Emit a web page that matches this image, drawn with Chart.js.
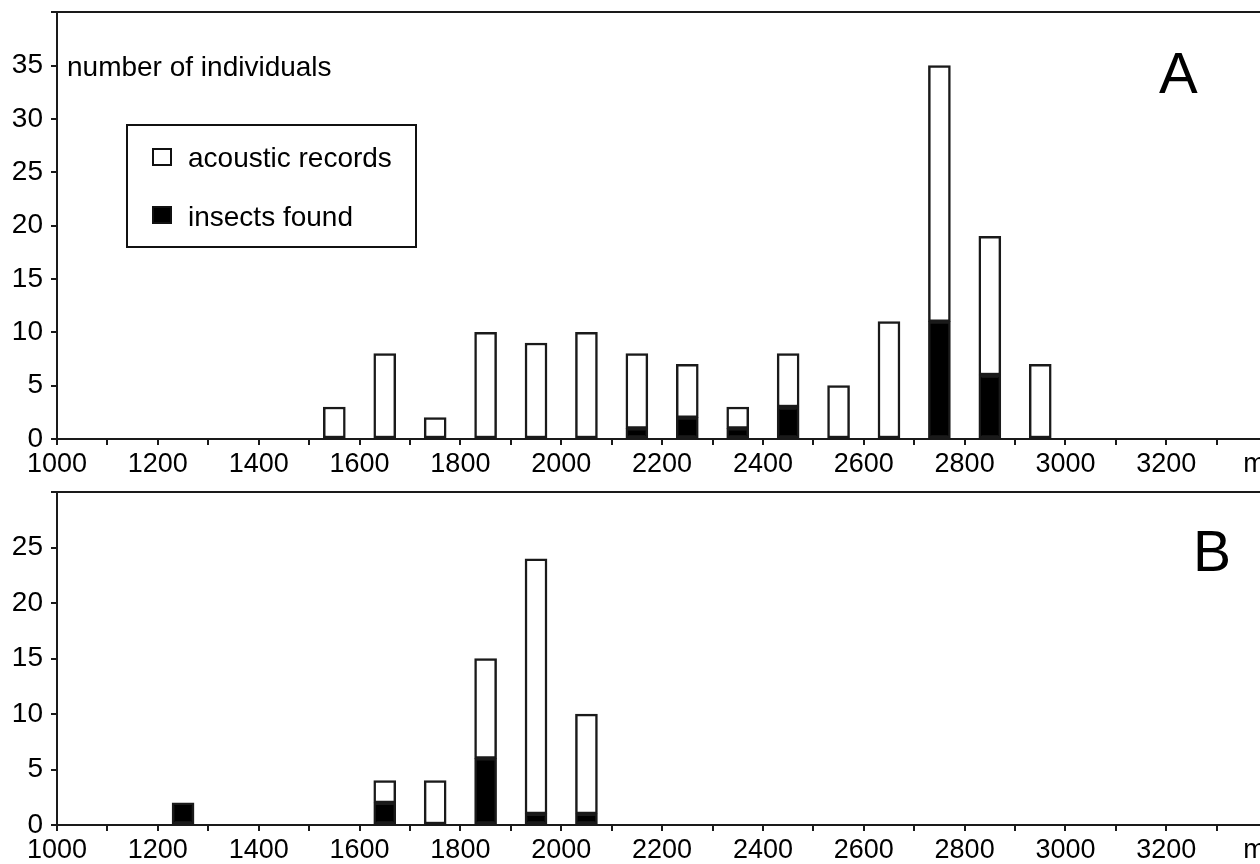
<!DOCTYPE html>
<html lang="en">
<head>
<meta charset="UTF-8">
<title>Number of individuals by elevation</title>
<script src="https://cdn.jsdelivr.net/npm/chart.js"></script>
<style>
  html, body { margin: 0; padding: 0; background: #fff; overflow: hidden; }
  #wrap { position: relative; width: 1260px; height: 864px; overflow: hidden; font-family: "Liberation Sans", Arial, sans-serif; color: #000; }
  #wrap canvas { position: absolute; left: 0; }
  #chartA { top: 0; }
  #chartB { top: 480px; }
  .txt { position: absolute; line-height: 1; white-space: nowrap; }
  #yTitle { left: 67px; top: 53px; font-size: 28px; }
  #panelA { left: 1159px; top: 44px; font-size: 58px; }
  #panelB { left: 1193px; top: 523px; font-size: 57px; }
  #legend { position: absolute; left: 126px; top: 124px; width: 291px; height: 124px; box-sizing: border-box; border: 2px solid #111; }
  .swatch { position: absolute; width: 20px; height: 18px; box-sizing: border-box; border: 2px solid #111; }
  .legTxt { font-size: 28px; }
</style>
</head>
<body>
<div id="wrap">
  <canvas id="chartA" width="1368" height="480"></canvas>
  <canvas id="chartB" width="1368" height="384"></canvas>
  <div class="txt" id="yTitle">number of individuals</div>
  <div class="txt" id="panelA">A</div>
  <div class="txt" id="panelB">B</div>
  <div id="legend"></div>
  <div class="swatch" style="left:152px; top:148px; background:#fff;"></div>
  <div class="txt legTxt" style="left:188px; top:144px;">acoustic records</div>
  <div class="swatch" style="left:152px; top:206px; background:#000;"></div>
  <div class="txt legTxt" style="left:188px; top:203px;">insects found</div>
</div>
<script>
  // elevation bins (m), bar centres
  const elevA = [1550, 1650, 1750, 1850, 1950, 2050, 2150, 2250, 2350, 2450, 2550, 2650, 2750, 2850, 2950];
  // white part of each bar (acoustic records) and black part (insects found)
  const acousticA = [3, 8, 2, 10, 9, 10, 7, 5, 2, 5, 5, 11, 24, 13, 7];
  const insectsA  = [0, 0, 0, 0, 0, 0, 1, 2, 1, 3, 0, 0, 11, 6, 0];

  const elevB = [1250, 1650, 1750, 1850, 1950, 2050];
  const acousticB = [0, 2, 4, 9, 23, 9];
  const insectsB  = [2, 2, 0, 6, 1, 1];

  const xTickValues = [1000, 1100, 1200, 1300, 1400, 1500, 1600, 1700, 1800, 1900, 2000, 2100, 2200,
                       2300, 2400, 2500, 2600, 2700, 2800, 2900, 3000, 3100, 3200, 3300, 3375];
  const xTickLabels = ['1000', '', '1200', '', '1400', '', '1600', '', '1800', '', '2000', '', '2200',
                       '', '2400', '', '2600', '', '2800', '', '3000', '', '3200', '', 'm'];

  const yTicksA = [0, 5, 10, 15, 20, 25, 30, 35, 40];
  const yLabelsA = ['0', '5', '10', '15', '20', '25', '30', '35', ''];
  const yTicksB = [0, 5, 10, 15, 20, 25, 30];
  const yLabelsB = ['0', '5', '10', '15', '20', '25', ''];

  const FONT = '"Liberation Sans", Arial, sans-serif';
  const INK = '#1a1a1a';

  function pts(xs, ys) {
    return xs.map((x, i) => ({ x: x, y: ys[i] > 0 ? ys[i] : null }));
  }

  function makeChart(id, elev, acoustic, insects, yTicks, yLabels, padTop, xHeight) {
    const yMax = yTicks[yTicks.length - 1];
    return new Chart(document.getElementById(id), {
      type: 'bar',
      data: {
        datasets: [
          { label: 'insects found', data: pts(elev, insects), backgroundColor: '#000', borderColor: INK,
            borderWidth: 2.5, borderSkipped: false, barThickness: 22, stack: 's' },
          { label: 'acoustic records', data: pts(elev, acoustic), backgroundColor: '#fff', borderColor: INK,
            borderWidth: 2.5, borderSkipped: false, barThickness: 22, stack: 's' }
        ]
      },
      options: {
        responsive: false,
        animation: false,
        layout: { padding: { top: padTop, left: 0, right: 0, bottom: 0 } },
        plugins: { legend: { display: false }, tooltip: { enabled: false } },
        scales: {
          x: {
            type: 'linear', min: 1000, max: 3600, stacked: true, offset: false,
            afterBuildTicks: s => { s.ticks = xTickValues.map(v => ({ value: v })); },
            afterFit: s => { s.height = xHeight; },
            ticks: { autoSkip: false, maxRotation: 0, padding: 3, color: '#000',
                     font: { family: FONT, size: 27 }, callback: (v, i) => xTickLabels[i] },
            grid: { offset: false, drawOnChartArea: false, tickLength: 6, lineWidth: 2,
                    tickColor: c => (xTickLabels[c.index] === 'm' ? 'rgba(0,0,0,0)' : INK) },
            border: { display: true, color: INK, width: 2 }
          },
          y: {
            min: 0, max: yMax, stacked: true,
            afterBuildTicks: s => { s.ticks = yTicks.map(v => ({ value: v })); },
            afterFit: s => { s.width = 57; },
            ticks: { padding: 8, color: '#000', font: { family: FONT, size: 28, lineHeight: 0.3 },
                     callback: (v, i) => yLabels[i] },
            grid: { tickLength: 6, lineWidth: 2, tickColor: INK,
                    color: c => (c.tick && c.tick.value === yMax ? INK : 'rgba(0,0,0,0)') },
            border: { display: true, color: INK, width: 2 }
          }
        }
      }
    });
  }

  makeChart('chartA', elevA, acousticA, insectsA, yTicksA, yLabelsA, 12, 41);
  makeChart('chartB', elevB, acousticB, insectsB, yTicksB, yLabelsB, 11, 39);
</script>
</body>
</html>
